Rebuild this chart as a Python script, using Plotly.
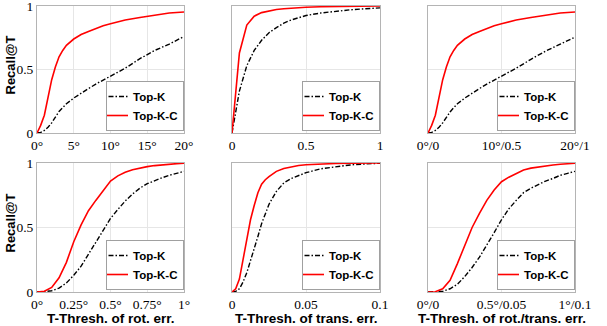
import plotly.graph_objects as go

# ---------------- data ----------------
# Panel 1: rotation error threshold (deg)
p1_x = [0, 0.5, 1, 1.5, 2, 2.5, 3, 3.5, 4, 5, 6, 7, 8, 9, 10, 12, 14, 15, 16, 18, 20]
p1_topk = [0, 0.005, 0.02, 0.045, 0.08, 0.13, 0.17, 0.2, 0.23, 0.275, 0.315, 0.35, 0.385, 0.415, 0.45, 0.51, 0.585, 0.62, 0.65, 0.70, 0.76]
p1_topkc = [0, 0.06, 0.14, 0.28, 0.42, 0.52, 0.6, 0.65, 0.69, 0.74, 0.775, 0.80, 0.825, 0.845, 0.86, 0.89, 0.91, 0.92, 0.93, 0.945, 0.953]

# Panel 2: translation error threshold
p2_x = [0, 0.05, 0.1, 0.15, 0.2, 0.25, 0.3, 0.35, 0.4, 0.5, 0.6, 0.7, 0.8, 0.9, 1.0]
p2_topk = [0, 0.33, 0.53, 0.65, 0.73, 0.79, 0.83, 0.865, 0.89, 0.925, 0.945, 0.96, 0.97, 0.978, 0.985]
p2_topkc = [0, 0.63, 0.85, 0.92, 0.948, 0.962, 0.972, 0.978, 0.983, 0.99, 0.994, 0.996, 0.998, 0.999, 1.0]

# Panel 3: combined rot/trans threshold (plotted on the rotation scale 0..20)
p3_x = [0, 0.5, 1, 1.5, 2, 2.5, 3, 3.5, 4, 5, 6, 7, 8, 9, 10, 12, 14, 15, 16, 18, 20]
p3_topk = [0, 0.005, 0.02, 0.045, 0.08, 0.125, 0.165, 0.2, 0.23, 0.275, 0.315, 0.35, 0.385, 0.415, 0.45, 0.51, 0.58, 0.615, 0.645, 0.70, 0.755]
p3_topkc = [0, 0.06, 0.14, 0.28, 0.42, 0.52, 0.6, 0.65, 0.69, 0.74, 0.775, 0.80, 0.825, 0.845, 0.86, 0.89, 0.91, 0.92, 0.93, 0.945, 0.953]

# Panel 4: fine rotation threshold (deg)
p4_x = [0, 0.05, 0.1, 0.15, 0.2, 0.25, 0.3, 0.35, 0.4, 0.45, 0.5, 0.55, 0.6, 0.65, 0.7, 0.75, 0.8, 0.85, 0.9, 0.95, 1.0]
p4_topk = [0, 0.002, 0.01, 0.03, 0.07, 0.13, 0.2, 0.29, 0.38, 0.47, 0.57, 0.64, 0.705, 0.76, 0.805, 0.84, 0.865, 0.885, 0.905, 0.92, 0.935]
p4_topkc = [0, 0.006, 0.035, 0.11, 0.23, 0.39, 0.52, 0.63, 0.71, 0.79, 0.86, 0.9, 0.928, 0.948, 0.962, 0.972, 0.98, 0.986, 0.991, 0.995, 0.998]

# Panel 5: fine translation threshold
p5_x = [0, 0.0025, 0.005, 0.0075, 0.01, 0.0125, 0.015, 0.0175, 0.02, 0.0225, 0.025, 0.03, 0.035, 0.04, 0.045, 0.05, 0.06, 0.07, 0.08, 0.09, 0.1]
p5_topk = [0, 0.005, 0.025, 0.078, 0.15, 0.24, 0.34, 0.43, 0.53, 0.61, 0.68, 0.78, 0.845, 0.88, 0.905, 0.925, 0.955, 0.972, 0.985, 0.993, 0.998]
p5_topkc = [0, 0.025, 0.1, 0.25, 0.41, 0.56, 0.67, 0.77, 0.835, 0.87, 0.895, 0.935, 0.958, 0.972, 0.981, 0.987, 0.993, 0.996, 0.998, 0.999, 1.0]

# Panel 6: fine combined threshold (normalised 0..1)
p6_x = [0, 0.05, 0.1, 0.15, 0.2, 0.25, 0.3, 0.35, 0.4, 0.45, 0.5, 0.55, 0.6, 0.65, 0.7, 0.75, 0.8, 0.85, 0.9, 0.95, 1.0]
p6_topk = [0, 0.001, 0.005, 0.025, 0.06, 0.12, 0.19, 0.27, 0.36, 0.46, 0.56, 0.645, 0.71, 0.77, 0.805, 0.835, 0.86, 0.88, 0.905, 0.92, 0.935]
p6_topkc = [0, 0.002, 0.025, 0.09, 0.22, 0.36, 0.5, 0.61, 0.71, 0.79, 0.855, 0.89, 0.92, 0.945, 0.96, 0.97, 0.98, 0.985, 0.99, 0.995, 0.998]

series_names = ["Top-K", "Top-K-C"]

p1_ticks = [0, 5, 10, 15, 20]
p1_ticktext = ["0°", "5°", "10°", "15°", "20°"]
p2_ticks = [0, 0.5, 1]
p2_ticktext = ["0", "0.5", "1"]
p3_ticks = [0, 10, 20]
p3_ticktext = ["0°/0", "10°/0.5", "20°/1"]
p4_ticks = [0, 0.25, 0.5, 0.75, 1]
p4_ticktext = ["0°", "0.25°", "0.5°", "0.75°", "1°"]
p5_ticks = [0, 0.05, 0.1]
p5_ticktext = ["0", "0.05", "0.1"]
p6_ticks = [0, 0.5, 1]
p6_ticktext = ["0°/0", "0.5°/0.05", "1°/0.1"]

y_ticks = [0, 0.5, 1]
y_ticktext = ["0", "0.5", "1"]

x_titles = ["T-Thresh. of rot. err.", "T-Thresh. of trans. err.", "T-Thresh. of rot./trans. err."]
y_title = "Recall@T"

# ---------------- figure ----------------
W, H = 607, 326
xdom = [(37 / W, 184 / W), (232 / W, 380 / W), (428 / W, 575 / W)]
ydom_top = (1 - 133 / H, 1 - 6 / H)
ydom_bot = (1 - 292 / H, 1 - 163 / H)

panels = [
    (p1_x, p1_topk, p1_topkc, p1_ticks, p1_ticktext, (0, 20), 0, 0),
    (p2_x, p2_topk, p2_topkc, p2_ticks, p2_ticktext, (0, 1), 1, 0),
    (p3_x, p3_topk, p3_topkc, p3_ticks, p3_ticktext, (0, 20), 2, 0),
    (p4_x, p4_topk, p4_topkc, p4_ticks, p4_ticktext, (0, 1), 0, 1),
    (p5_x, p5_topk, p5_topkc, p5_ticks, p5_ticktext, (0, 0.1), 1, 1),
    (p6_x, p6_topk, p6_topkc, p6_ticks, p6_ticktext, (0, 1), 2, 1),
]

fig = go.Figure()
tick_font = dict(family="Liberation Serif", size=13.5, color="black")
leg_font = dict(family="Liberation Sans", size=11.5, color="black", weight="bold")

layout = dict(
    width=W, height=H,
    margin=dict(l=0, r=0, t=0, b=0, autoexpand=False),
    paper_bgcolor="white", plot_bgcolor="white",
    showlegend=True,
    annotations=[],
)

for i, (xs, yk, ykc, tv, tt, xr, col, row) in enumerate(panels):
    n = i + 1
    xa = "x" if n == 1 else f"x{n}"
    ya = "y" if n == 1 else f"y{n}"
    lg = "legend" if n == 1 else f"legend{n}"
    fig.add_trace(go.Scatter(x=xs, y=yk, mode="lines", name=series_names[0],
                             line=dict(color="black", width=1.4, dash="5px,2px,1.5px,2px"),
                             xaxis=xa, yaxis=ya, legend=lg))
    fig.add_trace(go.Scatter(x=xs, y=ykc, mode="lines", name=series_names[1],
                             line=dict(color="#ff0000", width=1.6),
                             xaxis=xa, yaxis=ya, legend=lg))
    ydom = ydom_top if row == 0 else ydom_bot
    layout["xaxis" if n == 1 else f"xaxis{n}"] = dict(
        domain=list(xdom[col]), anchor=ya, range=list(xr),
        tickvals=tv, ticktext=tt, tickfont=tick_font, automargin=False,
        ticklabeloverflow="allow",
        showgrid=True, gridcolor="#e6e6e6", gridwidth=1,
        showline=True, mirror=True, linecolor="#b4b4b4", linewidth=1,
        zeroline=False, ticks="", fixedrange=True,
    )
    layout["yaxis" if n == 1 else f"yaxis{n}"] = dict(
        domain=list(ydom), anchor=xa, range=[0, 1],
        tickvals=y_ticks, ticktext=y_ticktext,
        showticklabels=(col == 0), tickfont=tick_font, automargin=False,
        ticklabeloverflow="allow",
        showgrid=True, gridcolor="#e6e6e6", gridwidth=1,
        showline=True, mirror=True, linecolor="#b4b4b4", linewidth=1,
        zeroline=False, ticks="", fixedrange=True,
    )
    layout[lg] = dict(
        x=xdom[col][1], y=ydom[0] + 2 / H, xanchor="right", yanchor="bottom",
        xref="paper", yref="paper",
        bgcolor="white", bordercolor="#a0a0a0", borderwidth=1,
        font=leg_font, tracegroupgap=0, itemwidth=30, indentation=-14,
    )

# x-axis titles under bottom row
for col in range(3):
    layout["annotations"].append(dict(
        text=x_titles[col], xref="paper", yref="paper",
        x=(xdom[col][0] + xdom[col][1]) / 2, y=1 - 318 / H,
        xanchor="center", yanchor="middle", showarrow=False,
        font=dict(family="Liberation Sans", size=13.5, color="black", weight="bold"),
    ))
# y-axis titles
for ydom in (ydom_top, ydom_bot):
    layout["annotations"].append(dict(
        text=y_title, xref="paper", yref="paper",
        x=10 / W, y=(ydom[0] + ydom[1]) / 2 + 4 / H, textangle=-90,
        xanchor="center", yanchor="middle", showarrow=False,
        font=dict(family="Liberation Sans", size=13, color="black", weight="bold"),
    ))

fig.update_layout(**layout)
fig.write_html("out.html", config={"displayModeBar": False},
               post_script="document.body.style.margin='0';document.body.style.overflow='hidden';")
